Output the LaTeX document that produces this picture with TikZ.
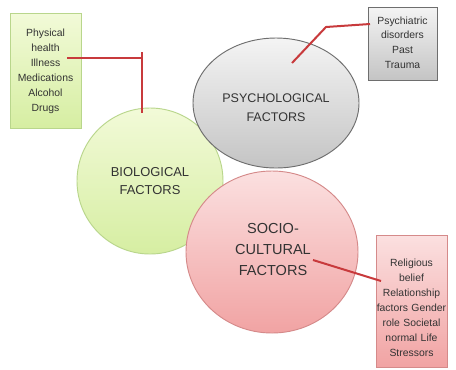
\documentclass[tikz,border=0pt]{standalone}
\usepackage{fontspec}
\setmainfont{Liberation Sans}
\usetikzlibrary{shapes.geometric,shadows}
\definecolor{txt}{HTML}{333333}
\definecolor{redline}{HTML}{C83A3C}
\definecolor{gtop}{HTML}{F2FAD8}
\definecolor{gbot}{HTML}{D6EEA2}
\definecolor{gedge}{HTML}{B9D68C}
\definecolor{ytop}{HTML}{F4F4F4}
\definecolor{ybot}{HTML}{C4C4C4}
\definecolor{yedge}{HTML}{6E6E6E}
\definecolor{ptop}{HTML}{FBE0E0}
\definecolor{pbot}{HTML}{F1A3A3}
\definecolor{pedge}{HTML}{D58A8A}
\tikzset{
  boxtext/.style={font=\fontsize{7.8pt}{11.25pt}\selectfont, text=txt, align=center, inner sep=0pt},
  infobox/.style={rectangle, drop shadow={shadow xshift=1pt, shadow yshift=-1pt, opacity=0.25}},
  greenbox/.style={infobox, draw=gedge, top color=gtop, bottom color=gbot, line width=0.6pt},
  graybox/.style={infobox, draw=yedge, top color=ytop, bottom color=ybot, line width=0.6pt},
  pinkbox/.style={infobox, draw=pedge, top color=ptop, bottom color=pbot, line width=0.6pt},
  bigtext/.style={text=txt, align=center, inner sep=0pt},
  conn/.style={draw=redline, line width=1.5pt},
}
\begin{document}
\begin{tikzpicture}[x=0.75pt,y=-0.75pt]
\useasboundingbox[fill=white] (0,0) rectangle (456,369);
% boxes
\node[greenbox, minimum width=53.25pt, minimum height=86.25pt] (gb) at (45.5,70.5) {};
\node[boxtext, text width=60pt] (gbt) at (45.5,71) {Physical\\health\\Illness\\Medications\\Alcohol\\Drugs};
\node[graybox, minimum width=51.75pt, minimum height=54.75pt] (yb) at (402.5,43.5) {};
\node[boxtext, text width=60pt, font=\fontsize{7.8pt}{10.9pt}\selectfont] (ybt) at (402.5,42.5) {Psychiatric\\disorders\\Past\\Trauma};
\node[pinkbox, minimum width=53.25pt, minimum height=99pt] (pb) at (411.5,301) {};
\node[boxtext, text width=60pt] (pbt) at (411.5,308) {Religious\\belief\\Relationship\\factors Gender\\role Societal\\normal Life\\Stressors};
% circles
\node[circle, draw=gedge, line width=0.7pt, top color=gtop, bottom color=gbot, minimum size=109.5pt, inner sep=0pt] (bio) at (150,181) {};
\node[bigtext, font=\fontsize{9.7pt}{13.5pt}\selectfont] (biot) at (150,181) {BIOLOGICAL\\FACTORS};
\node[ellipse, draw=yedge, line width=0.7pt, top color=ytop, bottom color=ybot, minimum width=124.5pt, minimum height=97.5pt, inner sep=0pt] (psy) at (276,103) {};
\node[bigtext, font=\fontsize{9.4pt}{14pt}\selectfont] (psyt) at (276,108) {PSYCHOLOGICAL\\FACTORS};
\node[ellipse, draw=pedge, line width=0.7pt, top color=ptop, bottom color=pbot, minimum width=129pt, minimum height=121.5pt, inner sep=0pt] (soc) at (272,252) {};
\node[bigtext, font=\fontsize{10.9pt}{15.75pt}\selectfont] (soct) at (273,249) {SOCIO-\\CULTURAL\\FACTORS};
% connectors
\coordinate (g1) at (67,58);
\coordinate (g2) at (142,58);
\coordinate (gtick) at (142,52);
\coordinate (b1) at (142,113);
\draw[conn] (g1) -- (g2);
\draw[conn] (gtick) -- (b1);
\coordinate (p1) at (370,24);
\coordinate (p2) at (326,27);
\coordinate (p3) at (292,63);
\draw[conn] (p1) -- (p2) -- (p3);
\coordinate (s1) at (313,260);
\coordinate (s2) at (381,281);
\draw[conn] (s1) -- (s2);
\end{tikzpicture}
\end{document}
